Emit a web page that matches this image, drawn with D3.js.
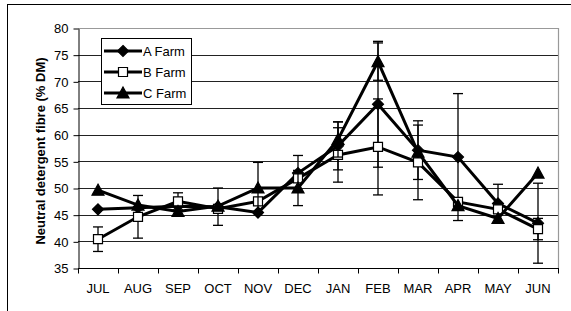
<!DOCTYPE html>
<html>
<head>
<meta charset="utf-8">
<script src="https://cdn.jsdelivr.net/npm/d3@7"></script>
<style>
  body { margin: 0; background: #fff; }
  svg { display: block; font-family: "Liberation Sans", Arial, sans-serif; }
</style>
</head>
<body>
<div id="chart"></div>
<script>

// Monthly NDF values per farm
const months = ["JUL", "AUG", "SEP", "OCT", "NOV", "DEC", "JAN", "FEB", "MAR", "APR", "MAY", "JUN"];
const farmA = [46.0, 46.3, 46.6, 46.5, 45.4, 52.8, 57.9, 65.7, 57.1, 55.8, 47.1, 43.4];
const farmB = [40.4, 44.6, 47.5, 46.1, 47.5, 51.8, 56.2, 57.7, 54.8, 47.4, 46.0, 42.3];
const farmC = [49.6, 46.8, 45.6, 46.6, 50.0, 50.0, 59.1, 73.7, 56.7, 46.7, 44.3, 52.8];
// error bar half-widths (0 = not visible)
const errA = [0, 0, 0, 3.5, 0, 3.3, 4.5, 11.8, 5.5, 11.9, 3.6, 7.5];
const errB = [2.3, 4.0, 1.6, 0, 0, 0, 5.1, 9.0, 7.0, 0, 0, 2.0];
const errC = [0, 0, 0, 0, 4.8, 3.3, 3.3, 3.5, 0, 0, 0, 0];
const yTicks = [35, 40, 45, 50, 55, 60, 65, 70, 75, 80];

const width = 571, height = 311;
const plot = { left: 78, right: 558, top: 28, bottom: 268 };
const fontSize = 13;

const svg = d3.select("#chart").append("svg")
    .attr("width", width)
    .attr("height", height);

// outer chart frame (runs off the bottom/right edge in the original)
svg.append("rect")
    .attr("x", 7.5).attr("y", 4.5)
    .attr("width", 600).attr("height", 400)
    .attr("fill", "none").attr("stroke", "#000").attr("stroke-width", 1);

const x = d3.scaleBand().domain(months).range([plot.left, plot.right]);
const y = d3.scaleLinear().domain([35, 80]).range([plot.bottom, plot.top]);
const cx = (m) => x(m) + x.bandwidth() / 2;

// horizontal gridlines
svg.append("g").selectAll("line")
    .data(yTicks.filter((t) => t > 35 && t < 80))
    .enter().append("line")
    .attr("x1", plot.left).attr("x2", plot.right)
    .attr("y1", (d) => Math.round(y(d)) + 0.5).attr("y2", (d) => Math.round(y(d)) + 0.5)
    .attr("stroke", "#222").attr("stroke-width", 1);

// plot area border (grey top and right)
svg.append("path")
    .attr("d", `M${plot.left},${plot.top + 0.5}H${plot.right + 0.5}V${plot.bottom}`)
    .attr("fill", "none").attr("stroke", "#999").attr("stroke-width", 1.2);

// y axis
const yAxis = svg.append("g")
    .attr("transform", `translate(${plot.left + 0.5},0.5)`)
    .call(d3.axisLeft(y).tickValues(yTicks).tickSize(5).tickSizeOuter(0));
yAxis.select(".domain").attr("stroke", "#000");
yAxis.selectAll("text").attr("font-size", fontSize).attr("fill", "#000")
    .attr("font-family", "Liberation Sans, Arial, sans-serif").attr("x", -10);

// x axis: ticks between categories
const xAxis = svg.append("g").attr("transform", `translate(0,${plot.bottom + 0.5})`);
xAxis.append("line")
    .attr("x1", plot.left).attr("x2", plot.right + 1)
    .attr("stroke", "#000");
xAxis.selectAll(".tk")
    .data(months.concat(["end"]))
    .enter().append("line")
    .attr("x1", (d, i) => (i < months.length ? x(d) : plot.right) + 0.5)
    .attr("x2", (d, i) => (i < months.length ? x(d) : plot.right) + 0.5)
    .attr("y1", 0).attr("y2", 5)
    .attr("stroke", "#000");
xAxis.selectAll("text")
    .data(months)
    .enter().append("text")
    .attr("x", cx).attr("y", 24)
    .attr("text-anchor", "middle")
    .attr("font-size", fontSize)
    .text((d) => d);

// y axis title
svg.append("text")
    .attr("transform", `translate(45,${(plot.top + plot.bottom) / 2 + 3}) rotate(-90)`)
    .attr("text-anchor", "middle")
    .attr("font-size", 13).attr("font-weight", "bold")
    .text("Neutral detergent fibre (% DM)");

// marker shapes
const diamond = "M0,-5.5L5.5,0L0,5.5L-5.5,0Z";
const square = "M-4.5,-4.5H4.5V4.5H-4.5Z";
const triangle = "M0,-6L6,5H-6Z";

const series = [
    { name: "A Farm", values: farmA, err: errA, shape: diamond, fill: "#000" },
    { name: "B Farm", values: farmB, err: errB, shape: square, fill: "#fff" },
    { name: "C Farm", values: farmC, err: errC, shape: triangle, fill: "#000" }
];

const line = d3.line()
    .x((d) => cx(d.m))
    .y((d) => y(d.v));

series.forEach(function(s) {
    const pts = months.map((m, i) => ({ m: m, v: s.values[i], e: s.err[i] }));

    // error bars
    const eb = svg.append("g").selectAll("g")
        .data(pts.filter((d) => d.e > 0))
        .enter().append("g")
        .attr("stroke", "#000").attr("stroke-width", 1.3);
    eb.append("line")
        .attr("x1", (d) => cx(d.m)).attr("x2", (d) => cx(d.m))
        .attr("y1", (d) => y(d.v - d.e)).attr("y2", (d) => y(d.v + d.e));
    eb.append("line")
        .attr("x1", (d) => cx(d.m) - 5).attr("x2", (d) => cx(d.m) + 5)
        .attr("y1", (d) => y(d.v - d.e)).attr("y2", (d) => y(d.v - d.e));
    eb.append("line")
        .attr("x1", (d) => cx(d.m) - 5).attr("x2", (d) => cx(d.m) + 5)
        .attr("y1", (d) => y(d.v + d.e)).attr("y2", (d) => y(d.v + d.e));

    svg.append("path")
        .datum(pts)
        .attr("d", line)
        .attr("fill", "none")
        .attr("stroke", "#000")
        .attr("stroke-width", 3)
        .attr("stroke-linejoin", "miter");

    svg.append("g").selectAll("path")
        .data(pts)
        .enter().append("path")
        .attr("d", s.shape)
        .attr("transform", (d) => `translate(${cx(d.m)},${y(d.v)})`)
        .attr("fill", s.fill)
        .attr("stroke", "#000")
        .attr("stroke-width", 1.2);
});

// legend
const legend = svg.append("g");
legend.append("rect")
    .attr("x", 101.5).attr("y", 38.5)
    .attr("width", 90).attr("height", 66)
    .attr("fill", "#fff").attr("stroke", "#000");

const li = legend.selectAll(".item")
    .data(series)
    .enter().append("g")
    .attr("transform", (d, i) => `translate(0,${51 + i * 21})`);
li.append("line")
    .attr("x1", 104).attr("x2", 142)
    .attr("stroke", "#000").attr("stroke-width", 3);
li.append("path")
    .attr("d", (d) => d.shape)
    .attr("transform", "translate(123,0)")
    .attr("fill", (d) => d.fill)
    .attr("stroke", "#000").attr("stroke-width", 1.2);
li.append("text")
    .attr("x", 143).attr("y", 4.5)
    .attr("font-size", fontSize)
    .text((d) => d.name);

</script>
</body>
</html>
